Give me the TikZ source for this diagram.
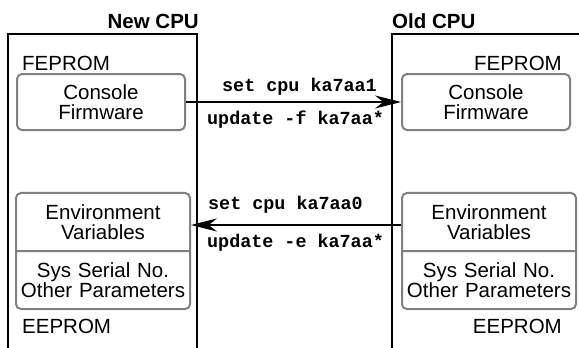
\documentclass[tikz,border=0pt]{standalone}
\usepackage{fontspec}
\setmainfont{Liberation Sans}
\setmonofont{Liberation Mono}
\usetikzlibrary{arrows.meta, shapes.multipart}
\definecolor{boxgray}{RGB}{128,128,128}

\begin{document}
\begin{tikzpicture}[x=1pt, y=-1pt,
    >={Stealth[length=26pt, width=13pt]},
    frame/.style={line width=2pt},
    memlabel/.style={font=\fontsize{20.5}{20}\selectfont, inner sep=0pt},
    cputitle/.style={font=\fontsize{20.5}{20}\selectfont\bfseries, inner sep=0pt},
    membox/.style={draw=boxgray, line width=2pt, rounded corners=5pt, align=center,
      font=\fontsize{20.5}{20}\selectfont, inner sep=0pt},
    cmd/.style={font=\fontsize{18.4}{18}\selectfont\ttfamily\bfseries, inner sep=0pt}]
      \useasboundingbox (0,0) rectangle (579,348);

      % the two cpu boards
      \draw[frame] (8,350) -- (8,34) -- (197,34) -- (197,350);
      \draw[frame] (392,350) -- (392,34) -- (585,34);
      \node[cputitle, anchor=base east] (newtitle) at (199,28) {New CPU};
      \node[cputitle, anchor=base west] (oldtitle) at (392,28) {Old CPU};

      % flash parts
      \node[memlabel, anchor=base west] (fepromnew) at (22,70) {FEPROM};
      \node[memlabel, anchor=base east] (fepromold) at (562,70) {FEPROM};
      \node[membox, minimum width=168pt, minimum height=56pt] (fwnew) at (101,102) {Console\\Firmware};
      \node[membox, minimum width=168pt, minimum height=56pt] (fwold) at (486,102) {Console\\Firmware};

      % eeprom parts
      \node[membox, rectangle split, rectangle split parts=2, text width=170pt,
        inner xsep=2pt, inner ysep=10.5pt] (envnew) at (103,251)
        {Environment\\Variables \nodepart{two} Sys Serial No.\\Other Parameters};
      \node[membox, rectangle split, rectangle split parts=2, text width=170pt,
        inner xsep=2pt, inner ysep=10.5pt] (envold) at (489,251)
        {Environment\\Variables \nodepart{two} Sys Serial No.\\Other Parameters};
      \node[memlabel, anchor=base west] (eepromnew) at (22,333) {EEPROM};
      \node[memlabel, anchor=base east] (eepromold) at (562,333) {EEPROM};

      % copy steps
      \draw[->, line width=1.2pt] (fwnew) -- (fwold);
      \node[cmd, anchor=base west] (setfw) at (222,91) {set cpu ka7aa1};
      \node[cmd, anchor=base west] (updfw) at (207,124) {update -f ka7aa*};

      \draw[->, line width=1.2pt] ([yshift=26pt]envold.west) -- ([yshift=26pt]envnew.east);
      \node[cmd, anchor=base west] (setenv) at (208,209) {set cpu ka7aa0};
      \node[cmd, anchor=base west] (updenv) at (207,247) {update -e ka7aa*};
    \end{tikzpicture}
\end{document}
